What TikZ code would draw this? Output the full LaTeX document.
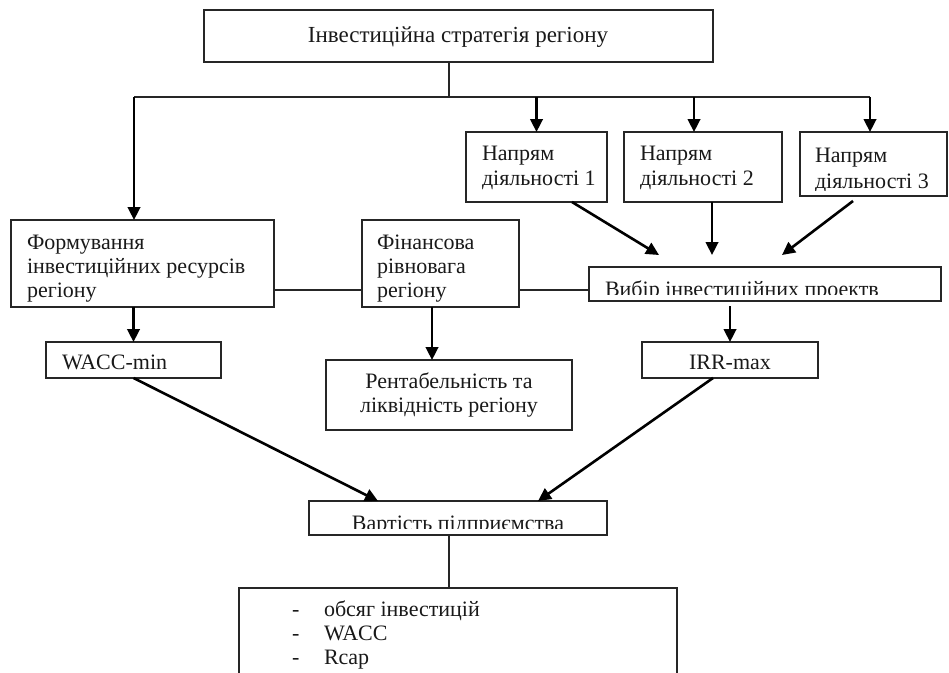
\documentclass[tikz,border=0pt]{standalone}
\usepackage{fontspec}
\setmainfont{Liberation Serif}
\usetikzlibrary{arrows.meta}
\begin{document}
\begin{tikzpicture}[x=1pt,y=-1pt,
  box/.style={draw=black!85, line width=1.4pt, inner sep=0pt, outer sep=0pt, anchor=north west},
  txt/.style={inner sep=0pt, outer sep=0pt, text=black!90, font=\fontsize{22}{24}\selectfont},
  lt/.style={txt, anchor=base west},
  ct/.style={txt, anchor=base},
  thinline/.style={line width=1.3pt, draw=black!85},
  arr/.style={line width=2.6pt, -{Triangle[length=13pt,width=12.5pt]}}]
\useasboundingbox (0,0) rectangle (949,672);
\clip (0,0) rectangle (949,672);

% boxes
\node[box, minimum width=509, minimum height=52] (top) at (204,10) {};
\node[box, minimum width=141, minimum height=70] (n1) at (466,132) {};
\node[box, minimum width=158, minimum height=70] (n2) at (624,132) {};
\node[box, minimum width=147, minimum height=64] (n3) at (800,132) {};
\node[box, minimum width=263, minimum height=87] (form) at (11,220) {};
\node[box, minimum width=157, minimum height=87] (fin) at (362,220) {};
\node[box, minimum width=352, minimum height=34] (vybir) at (589,267) {};
\node[box, minimum width=175, minimum height=36] (wacc) at (46,342) {};
\node[box, minimum width=246, minimum height=70] (rent) at (326,360) {};
\node[box, minimum width=176, minimum height=36] (irr) at (642,342) {};
\node[box, minimum width=298, minimum height=34] (vart) at (309,501) {};
\node[box, minimum width=438, minimum height=120] (bot) at (239,588) {};

% texts
\node[ct, font=\fontsize{23}{24}\selectfont] (topt) at (458,42) {Інвестиційна стратегія регіону};
\node[lt] (n1a) at (482,160) {Напрям};
\node[lt] (n1b) at (482,185) {діяльності 1};
\node[lt] (n2a) at (640,160) {Напрям};
\node[lt] (n2b) at (640,185) {діяльності 2};
\begin{scope}
  \clip (800,132) rectangle (947,190);
  \node[lt] (n3a) at (815,162) {Напрям};
  \node[lt] (n3b) at (815,188) {діяльності 3};
\end{scope}
\node[lt] (forma) at (27,249) {Формування};
\node[lt] (formb) at (27,273) {інвестиційних ресурсів};
\node[lt] (formc) at (27,297) {регіону};
\node[lt] (fina) at (377,249) {Фінансова};
\node[lt] (finb) at (377,273) {рівновага};
\node[lt] (finc) at (377,297) {регіону};
\begin{scope}
  \clip (589,267) rectangle (941,294);
  \node[lt] (vybirt) at (605,296) {Вибір інвестиційних проектв};
\end{scope}
\node[lt] (wacct) at (62,369) {WACC-min};
\node[ct] (renta) at (449,388) {Рентабельність та};
\node[ct] (rentb) at (449,412) {ліквідність регіону};
\node[ct] (irrt) at (730,369) {IRR-max};
\begin{scope}
  \clip (309,501) rectangle (607,528);
  \node[ct] (vartt) at (458,530) {Вартість підприємства};
\end{scope}
\node[lt] (d1) at (292,616) {-};
\node[lt] (l1) at (324,616) {обсяг інвестицій};
\node[lt] (d2) at (292,640) {-};
\node[lt] (l2) at (324,640) {WACC};
\node[lt] (d3) at (292,664) {-};
\node[lt] (l3) at (324,664) {Rcap};

% connectors
\coordinate (hJ) at (449,97);
\coordinate (hL) at (134,97);
\coordinate (hR) at (870,97);
\coordinate (hN2) at (694,97);
\draw[thinline] (top.south -| hJ) -- (hJ);
\draw[thinline] (hL) -- (hR);
\draw[arr] (hL) -- (hL |- form.north);
\draw[arr] (n1.north |- hL) -- (n1.north);
\draw[arr] (hN2) -- (hN2 |- n2.north);
\draw[arr] (hR) -- (hR |- n3.north);

\coordinate (mid) at (0,290);
\draw[thinline] (form.east |- mid) -- (fin.west |- mid);
\draw[thinline] (fin.east |- mid) -- (vybir.west |- mid);

\coordinate (t1) at (659,255);
\coordinate (t2) at (712,255);
\coordinate (t3) at (782,255);
\draw[arr] ([xshift=35.5pt]n1.south) -- (t1);
\draw[arr] ([xshift=9pt]n2.south) -- (t2);
\draw[arr] ([xshift=-20.5pt,yshift=-5pt]n3.south) -- (t3);

\coordinate (vF) at (432,0);
\coordinate (vs) at ([yshift=-5pt]vybir.south);
\draw[arr] (wacc.north |- form.south) -- (wacc.north);
\draw[arr] (fin.south -| vF) -- (rent.north -| vF);
\draw[arr] (irr.north |- vs) -- (irr.north);

\draw[arr] (wacc.south) -- ([xshift=-80pt]vart.north);
\draw[arr] ([xshift=-17pt]irr.south) -- ([xshift=80pt]vart.north);
\coordinate (vv) at (449,0);
\draw[thinline] (vart.south -| vv) -- (bot.north -| vv);
\end{tikzpicture}
\end{document}
